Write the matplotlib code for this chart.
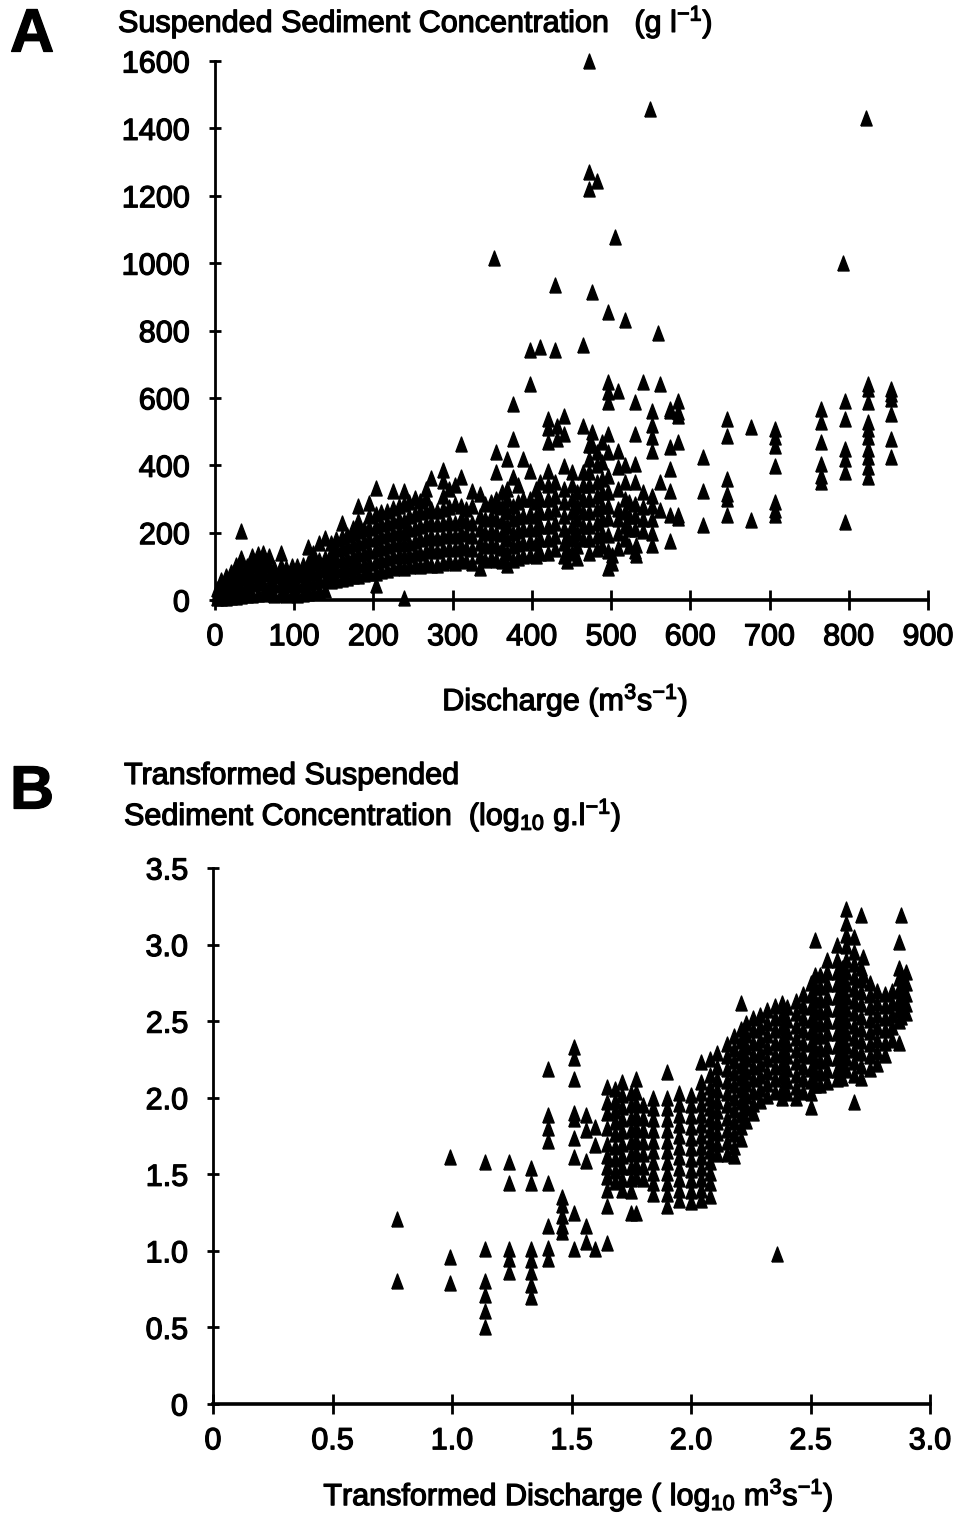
#!/usr/bin/env python3
"""
plot.py

Suspended sediment concentration against discharge:
  A - raw values (g l-1 vs m3 s-1)
  B - log10 transformed values

Output:
  out.png
"""

import matplotlib
matplotlib.use("Agg")
import matplotlib.pyplot as plt
import matplotlib.patheffects as pe

# ----------------------------------------------------------------------
# Data (grouped in columns of equal discharge)
# ----------------------------------------------------------------------
A_Q = [3, 8, 14, 20, 26, 33, 40, 47, 54, 61, 68, 75, 83, 90, 97, 104, 111,
       117, 124, 131, 139, 146, 153, 160, 167, 174, 181, 188, 195, 203, 210,
       217, 225, 232, 238, 245, 252, 259, 266, 273, 280, 288, 295, 303, 310,
       317, 324, 334, 341, 348, 352, 355, 362, 368, 376, 383, 389, 398, 405,
       410, 420, 429, 432, 441, 444, 450, 457, 464, 472, 476, 482, 489, 496,
       501, 505, 509, 518, 522, 530, 532, 540, 549, 551, 559, 562, 574, 584,
       616, 646, 677, 707, 765, 793, 795, 822, 824, 853]

A_SSC = [
    [5, 18, 32], [5, 22, 42, 58], [6, 26, 48, 70], [8, 30, 55, 82],
    [10, 36, 62, 92, 104], [12, 40, 68, 96, 126, 205], [14, 44, 72, 100],
    [16, 48, 78, 106, 132], [18, 52, 82, 112, 136], [18, 50, 80, 110, 140],
    [20, 46, 76, 104, 130], [16, 44, 70, 96], [18, 48, 76, 100, 141],
    [15, 44, 70, 96], [18, 48, 78, 100], [15, 44, 74, 100],
    [18, 48, 78, 104], [22, 52, 84, 110, 156], [24, 54, 84, 114, 141],
    [28, 58, 90, 120, 170], [30, 60, 94, 126, 185],
    [55, 82, 110, 140, 168], [60, 90, 120, 150, 180],
    [62, 92, 122, 154, 186, 230], [66, 96, 126, 160, 192],
    [70, 100, 130, 165, 200, 215], [72, 104, 136, 170, 205, 234, 279],
    [76, 106, 140, 175, 210], [80, 110, 145, 180, 215, 250, 289],
    [44, 80, 115, 150, 185, 220, 255, 333], [85, 120, 155, 190, 225, 260],
    [90, 125, 160, 195, 230, 265], [95, 130, 165, 200, 235, 274, 323],
    [100, 135, 170, 205, 240, 280],
    [6, 95, 130, 165, 200, 235, 284, 323],
    [100, 135, 170, 210, 250, 290], [105, 140, 175, 215, 255, 303],
    [100, 140, 180, 220, 260, 294], [110, 145, 185, 225, 265, 303, 330],
    [105, 150, 190, 230, 270, 362], [103, 145, 185, 225, 265],
    [110, 150, 190, 230, 270, 310, 353, 387],
    [115, 155, 195, 235, 275, 330], [110, 150, 190, 230, 286, 340],
    [120, 160, 200, 240, 280, 366, 463], [115, 155, 195, 235, 270],
    [110, 150, 190, 230, 280, 325], [94, 130, 170, 210, 250, 316],
    [120, 160, 200, 240, 285], [125, 165, 205, 245, 290], [1015],
    [120, 160, 200, 240, 280, 301, 381, 440],
    [115, 155, 195, 235, 275, 320],
    [103, 140, 180, 220, 260, 300, 330, 419],
    [120, 160, 200, 240, 280, 366, 478, 581],
    [125, 165, 205, 245, 290, 340], [130, 170, 210, 250, 300, 419],
    [135, 175, 215, 255, 300, 384, 640, 743],
    [130, 170, 210, 250, 290, 330], [140, 180, 220, 260, 300, 350, 752],
    [140, 180, 220, 260, 300, 340, 384, 469, 510, 537],
    [150, 190, 230, 270, 310, 350, 743, 935], [478, 517],
    [130, 170, 210, 250, 290, 330, 398, 493, 546], [115, 150, 190],
    [140, 180, 220, 260, 300, 340, 380], [124, 160, 200, 240, 280, 320],
    [180, 220, 260, 300, 340, 380, 517, 758],
    [140, 180, 220, 260, 300, 340, 380, 420, 460, 1220, 1270, 1600],
    [460, 500, 915], [150, 190, 230, 270, 310, 350, 400, 440, 1245],
    [160, 200, 240, 280, 320, 360, 410, 470],
    [94, 145, 192, 242, 280, 320, 369, 440, 493, 587, 617, 646, 856],
    [110, 133], [1077], [153, 200, 240, 271, 330, 395, 443, 620],
    [180, 220, 260, 300, 350, 400, 832], [159, 210, 250, 290],
    [145, 212, 250, 286, 350, 404, 493, 587], [133, 162],
    [204, 240, 277, 320, 646], [1458],
    [162, 200, 240, 280, 310, 443, 484, 520, 560], [793], [266, 351, 640],
    [174, 251, 325, 390, 454, 560, 567], [242, 251, 469, 546, 558, 590],
    [224, 325, 425], [251, 301, 316, 360, 487, 537], [236, 513],
    [251, 266, 292, 398, 457, 484, 507], [351, 369, 404, 469, 528, 567],
    [1000], [233, 381, 419, 449, 537, 590], [1430],
    [366, 396, 425, 449, 484, 507, 528, 587, 626, 640],
    [425, 478, 552, 596, 611, 626],
]

B_LOGQ = [0.77, 0.99, 1.14, 1.24, 1.33, 1.40, 1.46, 1.51, 1.56, 1.60, 1.65,
          1.68, 1.71, 1.75, 1.77, 1.80, 1.84, 1.90, 1.95, 2.00, 2.04, 2.08,
          2.11, 2.15, 2.18, 2.21, 2.23, 2.26, 2.29, 2.32, 2.35, 2.36, 2.38,
          2.40, 2.44, 2.47, 2.50, 2.52, 2.54, 2.57, 2.61, 2.63, 2.65, 2.68,
          2.71, 2.72, 2.75, 2.78, 2.81, 2.84, 2.87, 2.88, 2.90]

B_LOGSSC = [
    [0.80, 1.21],
    [0.79, 0.96, 1.61],
    [0.50, 0.61, 0.71, 0.80, 1.01, 1.58],
    [0.86, 0.95, 1.01, 1.44, 1.58],
    [0.70, 0.78, 0.86, 0.94, 1.01, 1.44, 1.54],
    [0.95, 1.02, 1.16, 1.44, 1.72, 1.80, 1.89, 2.19],
    [1.12, 1.16, 1.23, 1.30, 1.35],
    [1.01, 1.25, 1.61, 1.74, 1.86, 1.90, 2.12, 2.26, 2.33],
    [1.06, 1.16, 1.59, 1.79, 1.89],
    [1.01, 1.69, 1.81],
    [1.05, 1.29, 1.40, 1.48, 1.55, 1.62, 1.70, 1.80, 1.90, 1.97, 2.07],
    [1.45, 1.52, 1.60, 1.68, 1.76, 1.84, 1.91, 1.98, 2.06],
    [1.40, 1.47, 1.55, 1.62, 1.70, 1.78, 1.86, 1.94, 2.02, 2.10],
    [1.25, 1.39, 1.47, 1.55, 1.63, 1.71, 1.79, 1.87, 1.95, 2.03],
    [1.25, 1.48, 1.56, 1.64, 1.72, 1.80, 1.88, 1.96, 2.04, 2.12],
    [1.47, 1.55, 1.63, 1.71, 1.79, 1.87, 1.95],
    [1.37, 1.44, 1.51, 1.58, 1.65, 1.72, 1.79, 1.86, 1.93, 2.00],
    [1.29, 1.37, 1.44, 1.51, 1.58, 1.65, 1.72, 1.79, 1.86, 1.93, 2.00, 2.17],
    [1.33, 1.40, 1.47, 1.54, 1.61, 1.68, 1.75, 1.82, 1.89, 1.96, 2.03],
    [1.32, 1.39, 1.46, 1.53, 1.60, 1.67, 1.74, 1.81, 1.88, 1.95, 2.02],
    [1.33, 1.40, 1.47, 1.54, 1.61, 1.68, 1.75, 1.82, 1.89, 1.96, 2.03,
     2.10, 2.23],
    [1.36, 1.44, 1.51, 1.58, 1.65, 1.72, 1.79, 1.86, 1.93, 2.00, 2.07,
     2.15, 2.25],
    [1.63, 1.70, 1.77, 1.84, 1.91, 1.98, 2.05, 2.12, 2.20, 2.29],
    [1.63, 1.71, 1.79, 1.87, 1.95, 2.03, 2.11, 2.19, 2.27, 2.35],
    [1.62, 1.68, 1.76, 1.84, 1.92, 2.00, 2.08, 2.16, 2.24, 2.32, 2.40],
    [1.73, 1.81, 1.89, 1.97, 2.05, 2.13, 2.21, 2.29, 2.37, 2.45, 2.62],
    [1.85, 1.93, 2.01, 2.09, 2.17, 2.25, 2.33, 2.41, 2.49],
    [1.90, 1.96, 2.04, 2.12, 2.20, 2.28, 2.36, 2.44, 2.52],
    [1.98, 2.06, 2.14, 2.22, 2.30, 2.38, 2.46, 2.54],
    [2.01, 2.09, 2.17, 2.25, 2.33, 2.41, 2.49, 2.57],
    [2.04, 2.12, 2.20, 2.28, 2.36, 2.44, 2.52, 2.60],
    [0.98],
    [2.00, 2.06, 2.14, 2.22, 2.30, 2.38, 2.46, 2.54, 2.62],
    [2.03, 2.11, 2.19, 2.27, 2.35, 2.43, 2.51, 2.59],
    [2.00, 2.07, 2.15, 2.23, 2.31, 2.39, 2.47, 2.55, 2.63],
    [2.04, 2.12, 2.20, 2.28, 2.36, 2.44, 2.52, 2.60, 2.68],
    [1.94, 2.03, 2.11, 2.19, 2.27, 2.35, 2.43, 2.51, 2.59, 2.67, 2.75],
    [2.08, 2.16, 2.24, 2.32, 2.40, 2.48, 2.56, 2.64, 2.72, 2.80, 3.03],
    [2.08, 2.16, 2.24, 2.32, 2.40, 2.48, 2.56, 2.64, 2.72, 2.80],
    [2.10, 2.18, 2.26, 2.34, 2.42, 2.50, 2.58, 2.66, 2.74, 2.82, 2.90],
    [2.12, 2.18, 2.26, 2.34, 2.42, 2.50, 2.58, 2.66, 2.74, 2.82, 2.90,
     3.00],
    [2.13, 2.21, 2.29, 2.37, 2.45, 2.53, 2.61, 2.69, 2.77, 2.85],
    [2.18, 2.26, 2.34, 2.42, 2.50, 2.58, 2.66, 2.74, 2.82, 2.90, 2.99,
     3.06, 3.14, 3.23],
    [1.97, 2.15, 2.23, 2.31, 2.39, 2.47, 2.55, 2.63, 2.71, 2.79, 2.87,
     2.95, 3.05],
    [2.13, 2.21, 2.29, 2.37, 2.45, 2.53, 2.61, 2.69, 2.77, 2.85, 3.19],
    [2.80, 2.92],
    [2.19, 2.27, 2.35, 2.43, 2.51, 2.59, 2.67, 2.75],
    [2.22, 2.30, 2.38, 2.46, 2.54, 2.62, 2.70],
    [2.28, 2.36, 2.44, 2.52, 2.60, 2.68],
    [2.38, 2.46, 2.54, 2.62, 2.70],
    [2.36, 2.50, 2.57, 2.64, 2.71, 2.78, 2.85, 3.02],
    [2.53, 2.59, 2.66, 2.73, 2.80, 3.19],
    [2.55, 2.61, 2.68, 2.75, 2.82],
]

A_XTICKS = [0, 100, 200, 300, 400, 500, 600, 700, 800, 900]
A_YTICKS = [0, 200, 400, 600, 800, 1000, 1200, 1400, 1600]
B_XTICKS = [0, 0.5, 1.0, 1.5, 2.0, 2.5, 3.0]
B_XLABELS = ["0", "0.5", "1.0", "1.5", "2.0", "2.5", "3.0"]
B_YTICKS = [0, 0.5, 1.0, 1.5, 2.0, 2.5, 3.0, 3.5]
B_YLABELS = ["0", "0.5", "1.0", "1.5", "2.0", "2.5", "3.0", "3.5"]

# ----------------------------------------------------------------------
# Style
# ----------------------------------------------------------------------
W, H = 961, 1513
FONT = "Liberation Sans"
plt.rcParams["font.family"] = [FONT, "DejaVu Sans"]
plt.rcParams["mathtext.fontset"] = "custom"
plt.rcParams["mathtext.rm"] = FONT
plt.rcParams["mathtext.it"] = FONT
plt.rcParams["mathtext.default"] = "regular"

TICK_FS = 22
LABEL_FS = 22
# scanned print looks heavier than the plain font
INK = [pe.withStroke(linewidth=0.9, foreground="black")]

# narrow triangle, like the printed symbols
TRI = [(-0.38, -0.5), (0.38, -0.5), (0.0, 0.5), (-0.38, -0.5)]


def flatten(xcols, ycols):
    xs, ys = [], []
    for x, col in zip(xcols, ycols):
        for y in col:
            xs.append(x)
            ys.append(y)
    return xs, ys


def style_axes(ax):
    for side in ("top", "right"):
        ax.spines[side].set_visible(False)
    ax.spines["left"].set_linewidth(2.0)
    ax.spines["bottom"].set_linewidth(2.6)
    ax.tick_params(axis="x", direction="inout", length=14, width=2.0,
                   labelsize=TICK_FS, pad=9)
    ax.tick_params(axis="y", direction="inout", length=8, width=2.0,
                   labelsize=TICK_FS, pad=14)
    for lab in ax.get_xticklabels() + ax.get_yticklabels():
        lab.set_path_effects(INK)


def label(x, y, s, **kw):
    fig.text(x / W, 1 - y / H, s, path_effects=INK, **kw)


fig = plt.figure(figsize=(W / 100, H / 100), dpi=100)

# ----------------------------------------------------------------------
# Panel A
# ----------------------------------------------------------------------
axA = fig.add_axes([215 / W, 1 - 600 / H, (928 - 215) / W, (600 - 61) / H])
qa, sa = flatten(A_Q, A_SSC)
axA.scatter(qa, sa, marker=TRI, s=115, c="black", linewidths=1.0,
            edgecolors="black", clip_on=False, zorder=3)
axA.set_xlim(0, 900)
axA.set_ylim(0, 1600)
axA.set_xticks(A_XTICKS)
axA.set_yticks(A_YTICKS)
style_axes(axA)

label(10, 36, "A", fontsize=44, fontweight="bold", va="center", ha="left")
label(118, 22, "Suspended Sediment Concentration   (g l$^{-1}$)",
      fontsize=LABEL_FS, va="center", ha="left")
label(565, 700, "Discharge (m$^3$s$^{-1}$)",
      fontsize=LABEL_FS, va="center", ha="center")

# ----------------------------------------------------------------------
# Panel B
# ----------------------------------------------------------------------
axB = fig.add_axes([213 / W, 1 - 1404 / H, (930 - 213) / W, (1404 - 868) / H])
qb, sb = flatten(B_LOGQ, B_LOGSSC)
axB.scatter(qb, sb, marker=TRI, s=115, c="black", linewidths=1.0,
            edgecolors="black", clip_on=False, zorder=3)
axB.set_xlim(0, 3.0)
axB.set_ylim(0, 3.5)
axB.set_xticks(B_XTICKS)
axB.set_xticklabels(B_XLABELS)
axB.set_yticks(B_YTICKS)
axB.set_yticklabels(B_YLABELS)
style_axes(axB)

label(10, 793, "B", fontsize=44, fontweight="bold", va="center", ha="left")
label(124, 776, "Transformed Suspended",
      fontsize=LABEL_FS, va="center", ha="left")
label(124, 815, "Sediment Concentration  (log$_{10}$ g.l$^{-1}$)",
      fontsize=LABEL_FS, va="center", ha="left")
label(578, 1495, "Transformed Discharge ( log$_{10}$ m$^3$s$^{-1}$)",
      fontsize=LABEL_FS, va="center", ha="center")

fig.savefig("out.png", dpi=100, facecolor="white")
